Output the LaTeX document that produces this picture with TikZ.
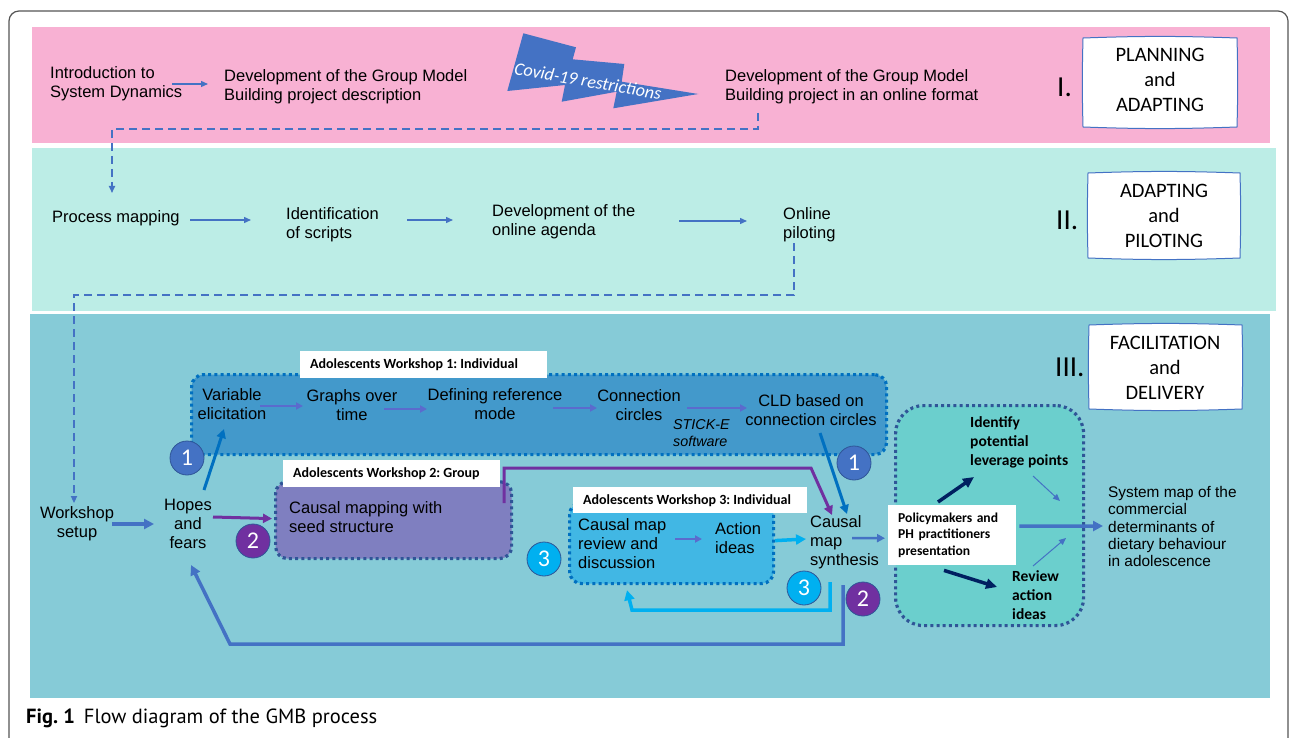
\documentclass[tikz,border=0pt]{standalone}
\usepackage{fontspec}
\setmainfont{Liberation Sans}
\newfontfamily\calfont{Carlito}
\newfontfamily\capfont{PT Sans}
\usetikzlibrary{arrows.meta,calc}
\newcommand{\myfs}[2]{\fontsize{#1}{#2}\selectfont}
\frenchspacing
\definecolor{pinkband}{HTML}{F8B1D3}
\definecolor{bandtwo}{HTML}{BCEDE6}
\definecolor{bandthree}{HTML}{86CBD7}
\definecolor{wsonefill}{HTML}{4399CB}
\definecolor{wstwofill}{HTML}{7F7FC0}
\definecolor{wsthreefill}{HTML}{41B7E4}
\definecolor{wsfourfill}{HTML}{6BCFCD}
\definecolor{blueA}{HTML}{4472C4}
\definecolor{blueB}{HTML}{0070C0}
\definecolor{purp}{HTML}{7030A0}
\definecolor{cyanc}{HTML}{00B0F0}
\definecolor{navy}{HTML}{002060}
\definecolor{dotdark}{HTML}{2F5597}
\definecolor{lav}{HTML}{5B6BCD}
\definecolor{framegray}{HTML}{555555}
\newcommand{\sketchbox}[4]{\filldraw[fill=white,draw=blueA,line width=1] (#1,#2) to[bend left=2] (#3,#2) to[bend left=1.5] (#3,#4) to[bend left=2] (#1,#4) to[bend left=1.5] (#1,#2) -- cycle;}
\newcommand{\lbltext}[2]{\hspace*{10pt}\makebox[#1][l]{#2}}
\begin{document}
\begin{tikzpicture}[x=1pt,y=-1pt,
  txt/.style={inner sep=0, font={\myfs{16.5}{19}}, align=left},
  ctxt/.style={inner sep=0, font={\myfs{16.5}{19}}, align=center},
  boxtxt/.style={inner sep=0, font={\calfont\myfs{20.5}{25}}, align=center},
  roman/.style={inner sep=0, font={\calfont\myfs{29}{30}}, anchor=west},
  lbl/.style={fill=white, inner sep=0, anchor=north west, font={\calfont\bfseries\myfs{14}{16}}},
  boldtxt/.style={inner sep=0, anchor=west, align=left, font={\calfont\bfseries\myfs{15.5}{19}}},
  dotbox/.style={rounded corners=12, line width=3.2, dash pattern=on 3pt off 3.2pt, anchor=north west, inner sep=0},
  numc/.style={circle, minimum size=34, inner sep=0, draw=dotdark, line width=0.8, text=white, font={\calfont\myfs{24}{24}}},
  thinarr/.style={draw=blueA, line width=1.3, -{Triangle[length=7,width=6]}},
  lavarr/.style={draw=lav, line width=2, -{Triangle[length=7,width=7]}},
  dasharr/.style={draw=blueA, line width=1.6, dash pattern=on 8pt off 5pt, -{Triangle[length=7,width=6]}},
  heavy/.style={line width=3.5, -{Triangle[length=10,width=10]}}
]
\useasboundingbox (0,0) rectangle (1290,738);
\fill[white] (0,0) rectangle (1290,738);
% frame
\draw[framegray, line width=1.2, rounded corners=10] (9,11) rectangle (1288,760);
% bands
\fill[pinkband] (32,27) rectangle (1270,143);
\fill[bandtwo] (32,148) rectangle (1276,311);
\fill[bandthree] (30,314) rectangle (1270,698);

% ---------- Band I
\node[txt, anchor=west] (intro) at (50,84) {Introduction to\\System Dynamics};
\node[txt, anchor=west] (gmb) at (224,86.5) {Development of the Group Model\\Building project description};
\fill[blueA] (523.3,33.3) -- (576,47.3) -- (572.7,59.3) -- (624.3,64) -- (621.7,81.7) -- (698.3,94) -- (613.3,108.3) -- (616.7,91.7) -- (561.7,101.7) -- (565,85) -- (507.3,91) -- cycle;
\node[inner sep=0, text=white, rotate=-10, font={\calfont\itshape\myfs{18}{18}}] (covid) at (588,81) {Covid-19 restrictions};
\node[txt, anchor=west] (online) at (725,86.5) {Development of the Group Model\\Building project in an online format};
\node[roman] (r1) at (1057,87) {I.};
\sketchbox{1083}{38}{1237}{127}
\node[boxtxt] (pa) at (1160,80) {PLANNING\\and\\ADAPTING};

% ---------- Band II
\node[txt, anchor=west] (pm) at (52,218) {Process mapping};
\node[txt, anchor=west] (ids) at (286,224.5) {Identification\\of scripts};
\node[txt, anchor=west] (dev) at (492,221.5) {Development of the\\online agenda};
\node[txt, anchor=west] (pil) at (783,224.5) {Online\\piloting};
\node[roman] (r2) at (1056,220) {II.};
\sketchbox{1088}{173}{1240}{258}
\node[boxtxt] (ap) at (1164,216) {ADAPTING\\and\\PILOTING};

% ---------- Band III
\node[roman] (r3) at (1055,367) {III.};
\sketchbox{1089}{325}{1242}{409}
\node[boxtxt] (fd) at (1165,368) {FACILITATION\\and\\DELIVERY};

% workshop boxes
\node[dotbox, fill=wsonefill, draw=blueB, minimum width=695, minimum height=80] (ws1) at (190,373) {};
\node[dotbox, fill=wstwofill, draw=dotdark, minimum width=236, minimum height=77] (ws2) at (274,480) {};
\node[dotbox, fill=wsthreefill, draw=blueB, minimum width=204, minimum height=81] (ws3) at (568,501) {};
\node[dotbox, rounded corners=28, fill=wsfourfill, draw=dotdark, minimum width=188, minimum height=220] (ws4) at (894,404) {};

\node[lbl, minimum height=27] (l1) at (300,351) {\lbltext{237pt}{Adolescents Workshop 1: Individual}};
\node[lbl, minimum height=27] (l2) at (283,460) {\lbltext{207pt}{Adolescents Workshop 2: Group}};
\node[lbl, minimum height=26] (l3) at (573,487) {\lbltext{224pt}{Adolescents Workshop 3: Individual}};

\node[ctxt] (ws) at (77,523.5) {Workshop\\setup};
\node[ctxt] (hf) at (188,524) {Hopes\\and\\fears};
\node[ctxt] (ve) at (232,404.5) {Variable\\elicitation};
\node[ctxt] (gt) at (352,405.5) {Graphs over\\time};
\node[ctxt] (drm) at (495,404.5) {Defining reference\\mode};
\node[ctxt] (cc) at (639,405) {Connection\\circles};
\node[ctxt] (cld) at (811,410) {CLD based on\\connection circles};
\node[inner sep=0, anchor=west, align=left, font={\itshape\myfs{14.3}{17}}] (stick) at (673,433.5) {STICK-E\\software};
\node[txt, anchor=west] (cms2) at (289,517.5) {Causal mapping with\\seed structure};
\node[txt, anchor=west] (crd) at (578,544) {Causal map\\review and\\discussion};
\node[txt, anchor=west] (ai) at (715,538.5) {Action\\ideas};
\node[txt, anchor=west] (cms) at (810,542) {Causal\\map\\synthesis};

\node[fill=white, anchor=north west, inner xsep=10, inner ysep=0, minimum height=60, text width=108, align=left, font={\calfont\bfseries\myfs{13.6}{16.5}}] (pres) at (888,505) {Policymakers and\\PH practitioners\\presentation};
\node[boldtxt] (ilp) at (970,442) {Identify\\potential\\leverage points};
\node[boldtxt] (rai) at (1012,595.5) {Review\\action\\ideas};
\node[inner sep=0, anchor=west, align=left, font={\myfs{15.4}{17.3}}] (sm) at (1108,526.5) {System map of the\\commercial\\determinants of\\dietary behaviour\\in adolescence};

% numbered circles
\node[numc, fill=blueA] (n1a) at (187,458) {1};
\node[numc, fill=blueA] (n1b) at (854,463) {1};
\node[numc, fill=purp] (n2a) at (253,541) {2};
\node[numc, fill=purp] (n2b) at (863,599) {2};
\node[numc, fill=cyanc] (n3a) at (544,559) {3};
\node[numc, fill=cyanc] (n3b) at (804,588) {3};

% ---------- connectors
\coordinate (b1) at (112,129);
\coordinate (b2) at (74,295);
\coordinate (pp) at (811,468);
\coordinate (cr) at (632,610);
\coordinate (br) at (230,644);

\draw[thinarr] ($(intro.west)+(122,0)$) -- ($(gmb.west)+(-16,-2.5)$);
\draw[dasharr] ($(online.west)+(33,26.5)$) |- (b1) -- ($(pm.west)+(60,-25)$);
\draw[thinarr] ($(pm.west)+(138,2)$) -- ($(ids.west)+(-35,-4.5)$);
\draw[thinarr] ($(ids.west)+(121,-4.5)$) -- ($(dev.west)+(-39,-1.5)$);
\draw[thinarr] ($(dev.west)+(187,-0.5)$) -- ($(pil.west)+(-36,-3.5)$);
\draw[dasharr] ($(pil.west)+(11,18.5)$) |- (b2) -- ($(ws.north)+(-3,-3)$);

\draw[heavy, blueA] ($(ws)+(35,0.5)$) -- ($(hf)+(-34,0)$);
\draw[line width=3, blueB, -{Triangle[length=9,width=9]}] ($(hf)+(16,-34)$) -- ($(ve)+(-8,24.5)$);
\draw[line width=3, purp, -{Triangle[length=9,width=9]}] ($(hf)+(25,-7)$) -- ($(ws2.west)+(-2,-1.5)$);

\draw[lavarr] ($(ve)+(28,1.5)$) -- ($(gt)+(-49,0.5)$);
\draw[lavarr] ($(gt)+(32,3.5)$) -- ($(drm)+(-68,4.5)$);
\draw[lavarr] ($(drm)+(58,3.5)$) -- ($(cc)+(-42,3)$);
\draw[lavarr] ($(cc)+(48,3)$) -- ($(cld)+(-64,-2)$);

\draw[line width=3, blueB, -{Triangle[length=9,width=9]}] ($(cld)+(9,23)$) -- ($(cms.west)+(37,-28)$);
\draw[line width=3, purp, -{Triangle[length=9,width=9]}] ($(ws2.north east)+(-9,23)$) |- (pp) -- ($(cms.west)+(22,-27)$);
\draw[lavarr] ($(crd.west)+(97,-5)$) -- ($(ai.west)+(-13,0.5)$);
\draw[heavy, cyanc] ($(ws3.east)+(0,-2.5)$) -- ($(cms.west)+(-4,-3)$);
\draw[line width=3.5, cyanc, -{Triangle[length=10,width=10]}] ($(cms.west)+(20,40)$) |- (cr) -- ($(ws3.south west)+(59,5)$);
\draw[line width=3.5, blueA, -{Triangle[length=10,width=10]}] ($(cms.west)+(33,43)$) |- (br) -- ($(hf)+(3,41)$);
\draw[line width=2.5, blueA, -{Triangle[length=8,width=8]}] ($(cms.west)+(42,-4)$) -- ($(pres.west)+(-3,3)$);

\draw[line width=3.5, navy, -{Triangle[length=11,width=10]}] ($(pres.north west)+(50,-3)$) -- ($(ilp.west)+(4,35)$);
\draw[line width=3.5, navy, -{Triangle[length=11,width=10]}] ($(pres.south west)+(56,5)$) -- ($(rai.west)+(-15,-8.5)$);
\draw[blueA, line width=1, -{Triangle[length=7,width=6]}] ($(ilp.west)+(63,34)$) -- ($(sm.west)+(-48,-25.5)$);
\draw[blueA, line width=1, -{Triangle[length=7,width=6]}] ($(rai.west)+(21,-29.5)$) -- ($(sm.west)+(-42,11.5)$);
\draw[heavy, blueA] ($(pres.east)+(3,-9)$) -- ($(sm.west)+(-5,-0.5)$);

% caption
\node[inner sep=0, anchor=west, font={\capfont\myfs{20.5}{20.5}}] (cap) at (26,718) {\textbf{Fig. 1}\hspace{9pt}Flow diagram of the GMB process};
\end{tikzpicture}
\end{document}
